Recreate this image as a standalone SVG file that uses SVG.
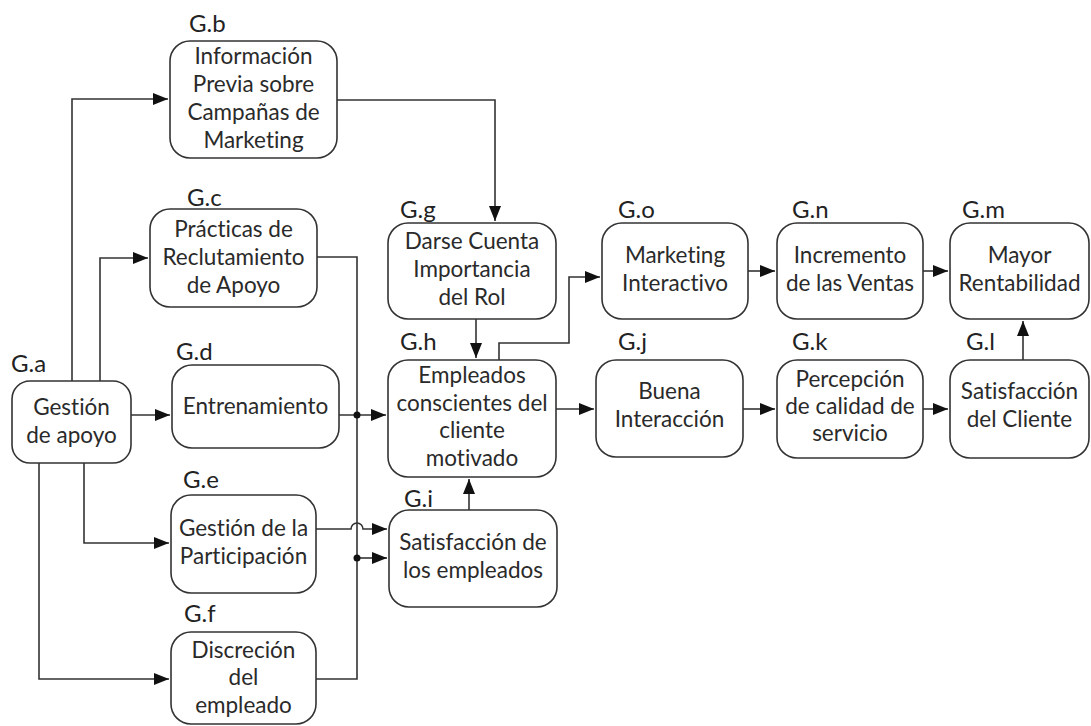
<svg xmlns="http://www.w3.org/2000/svg" width="1091" height="726" viewBox="0 0 1091 726">
<style>
.box{fill:#fff;stroke:#333;stroke-width:1.6}
.t{font-family:Lato,"Liberation Sans",sans-serif;font-size:22.5px;fill:#2a2a2a;text-anchor:middle;font-variant-ligatures:none}
.lb{font-family:Lato,"Liberation Sans",sans-serif;font-size:24px;fill:#222}
.c{fill:none;stroke:#333;stroke-width:1.6}
</style>
<defs>
<marker id="ar" markerUnits="userSpaceOnUse" markerWidth="16" markerHeight="14" refX="15" refY="6" orient="auto">
<path d="M0,0 L15,6 L0,12 Z" fill="#111"/>
</marker>
</defs>
<rect width="1091" height="726" fill="#fff"/>
<g id="connectors">
<path class="c" d="M72,381 V99 H168" marker-end="url(#ar)"/>
<path class="c" d="M100,381 V258 H148" marker-end="url(#ar)"/>
<path class="c" d="M131,415 H170" marker-end="url(#ar)"/>
<path class="c" d="M84,463 V543 H169" marker-end="url(#ar)"/>
<path class="c" d="M39,463 V679 H169" marker-end="url(#ar)"/>
<path class="c" d="M337,100 H495 V221" marker-end="url(#ar)"/>
<path class="c" d="M317,257 H357 V679 H316"/>
<path class="c" d="M339,415 H386" marker-end="url(#ar)"/>
<path class="c" d="M357,558 H387" marker-end="url(#ar)"/>
<path class="c" d="M316,529 H351 A6,6 0 0 1 363,529 H387" marker-end="url(#ar)"/>
<circle cx="357" cy="415" r="3.5" fill="#111"/>
<circle cx="357" cy="558" r="3.5" fill="#111"/>
<path class="c" d="M476,319 V358" marker-end="url(#ar)"/>
<path class="c" d="M469,510 V479" marker-end="url(#ar)"/>
<path class="c" d="M499,360 V343 H569 V277 H600" marker-end="url(#ar)"/>
<path class="c" d="M556,409 H594" marker-end="url(#ar)"/>
<path class="c" d="M743,409 H775" marker-end="url(#ar)"/>
<path class="c" d="M923,409 H948" marker-end="url(#ar)"/>
<path class="c" d="M748,271 H775" marker-end="url(#ar)"/>
<path class="c" d="M923,271 H948" marker-end="url(#ar)"/>
<path class="c" d="M1023,360 V321" marker-end="url(#ar)"/>
</g>
<g id="Ga">
<text class="lb" x="11" y="372">G.a</text>
<rect class="box" x="12" y="381" width="119" height="82" rx="18"/>
<text class="t" x="71.5" y="415">Gestión</text>
<text class="t" x="71.5" y="443">de apoyo</text>
</g>
<g id="Gb">
<text class="lb" x="189" y="32">G.b</text>
<rect class="box" x="170" y="41" width="167" height="117" rx="20"/>
<text class="t" x="253.5" y="64">Información</text>
<text class="t" x="253.5" y="92">Previa sobre</text>
<text class="t" x="253.5" y="120">Campañas de</text>
<text class="t" x="253.5" y="148">Marketing</text>
</g>
<g id="Gc">
<text class="lb" x="187" y="206">G.c</text>
<rect class="box" x="150" y="209" width="167" height="98" rx="20"/>
<text class="t" x="233.5" y="237">Prácticas de</text>
<text class="t" x="233.5" y="265">Reclutamiento</text>
<text class="t" x="233.5" y="293">de Apoyo</text>
</g>
<g id="Gd">
<text class="lb" x="176" y="360">G.d</text>
<rect class="box" x="172" y="365" width="167" height="83" rx="20"/>
<text class="t" x="255.5" y="414">Entrenamiento</text>
</g>
<g id="Ge">
<text class="lb" x="183" y="488">G.e</text>
<rect class="box" x="171" y="495" width="145" height="98" rx="20"/>
<text class="t" x="243.5" y="536">Gestión de la</text>
<text class="t" x="243.5" y="564">Participación</text>
</g>
<g id="Gf">
<text class="lb" x="184" y="622">G.f</text>
<rect class="box" x="171" y="632" width="145" height="92" rx="20"/>
<text class="t" x="243.5" y="658">Discreción</text>
<text class="t" x="243.5" y="685">del</text>
<text class="t" x="243.5" y="713">empleado</text>
</g>
<g id="Gg">
<text class="lb" x="400" y="218">G.g</text>
<rect class="box" x="388" y="223" width="168" height="96" rx="20"/>
<text class="t" x="472" y="249">Darse Cuenta</text>
<text class="t" x="472" y="277">Importancia</text>
<text class="t" x="472" y="305">del Rol</text>
</g>
<g id="Gh">
<text class="lb" x="400" y="350">G.h</text>
<rect class="box" x="388" y="360" width="168" height="117" rx="20"/>
<text class="t" x="472" y="383">Empleados</text>
<text class="t" x="472" y="411">conscientes del</text>
<text class="t" x="472" y="438">cliente</text>
<text class="t" x="472" y="466">motivado</text>
</g>
<g id="Gi">
<text class="lb" x="404" y="507">G.i</text>
<rect class="box" x="389" y="510" width="168" height="97" rx="20"/>
<text class="t" x="473" y="550">Satisfacción de</text>
<text class="t" x="473" y="578">los empleados</text>
</g>
<g id="Go">
<text class="lb" x="618" y="218">G.o</text>
<rect class="box" x="602" y="223" width="146" height="96" rx="20"/>
<text class="t" x="675" y="263">Marketing</text>
<text class="t" x="675" y="291">Interactivo</text>
</g>
<g id="Gj">
<text class="lb" x="618" y="350">G.j</text>
<rect class="box" x="596" y="360" width="147" height="97" rx="20"/>
<text class="t" x="669.5" y="399">Buena</text>
<text class="t" x="669.5" y="427">Interacción</text>
</g>
<g id="Gn">
<text class="lb" x="792" y="218">G.n</text>
<rect class="box" x="777" y="223" width="146" height="96" rx="20"/>
<text class="t" x="850" y="263">Incremento</text>
<text class="t" x="850" y="291">de las Ventas</text>
</g>
<g id="Gk">
<text class="lb" x="792" y="350">G.k</text>
<rect class="box" x="777" y="360" width="146" height="98" rx="20"/>
<text class="t" x="850" y="387">Percepción</text>
<text class="t" x="850" y="414">de calidad de</text>
<text class="t" x="850" y="441">servicio</text>
</g>
<g id="Gm">
<text class="lb" x="962" y="218">G.m</text>
<rect class="box" x="950" y="223" width="139" height="96" rx="20"/>
<text class="t" x="1019.5" y="263">Mayor</text>
<text class="t" x="1019.5" y="291">Rentabilidad</text>
</g>
<g id="Gl">
<text class="lb" x="966" y="350">G.l</text>
<rect class="box" x="950" y="360" width="139" height="98" rx="20"/>
<text class="t" x="1019.5" y="399">Satisfacción</text>
<text class="t" x="1019.5" y="427">del Cliente</text>
</g>
</svg>
